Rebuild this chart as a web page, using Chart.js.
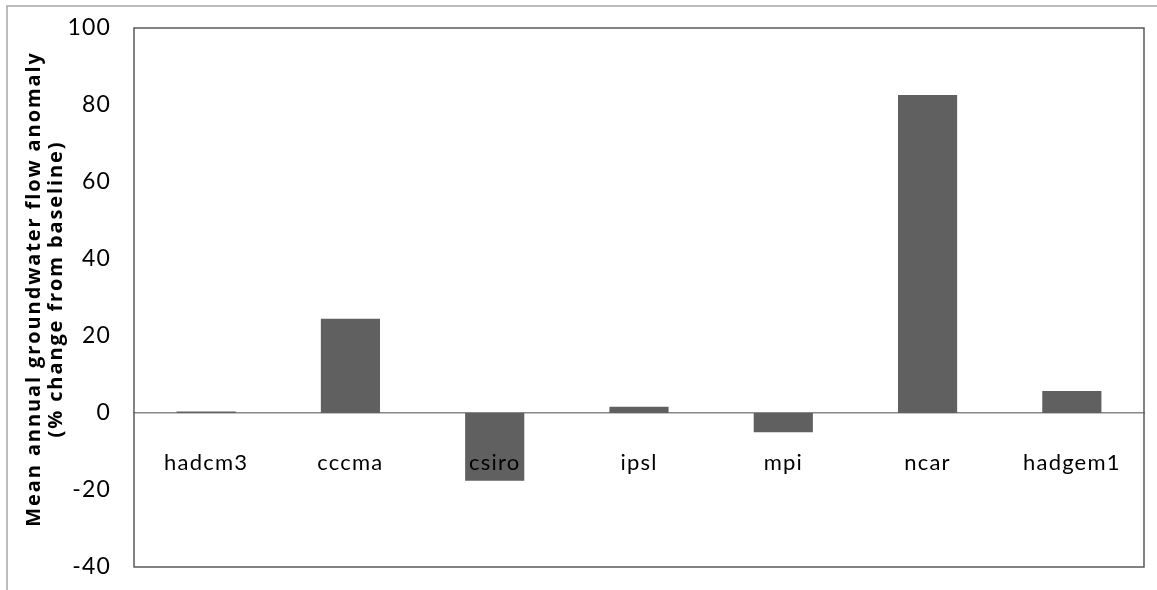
<!DOCTYPE html>
<html>
<head>
<meta charset="utf-8">
<script src="https://cdn.jsdelivr.net/npm/chart.js@4"></script>
<style>
  html, body { margin: 0; padding: 0; background: #fff; }
  #wrap { width: 1157px; height: 590px; position: relative; }
</style>
</head>
<body>
<div id="wrap"><canvas id="bars"></canvas></div>
<script>
const models = ['hadcm3', 'cccma', 'csiro', 'ipsl', 'mpi', 'ncar', 'hadgem1'];
const anomaly = [0.4, 24.5, -17.6, 1.6, -5.0, 82.6, 5.7];
const yTicks = [-40, -20, 0, 20, 40, 60, 80, 100];
const yTitle = ['Mean annual groundwater flow anomaly', '(% change from baseline)'];

// outer frame (only top/left visible) + plot frame + rotated axis title
const decor = {
  id: 'decor',
  beforeDraw(chart) {
    const c = chart.ctx;
    c.letterSpacing = '1.2px';
    c.save();
    c.strokeStyle = '#a6a6a6';
    c.lineWidth = 1.5;
    c.strokeRect(7, 6, 3000, 3000);
    c.restore();
  },
  afterDraw(chart) {
    const c = chart.ctx, a = chart.chartArea;
    c.save();
    c.strokeStyle = '#595959';
    c.lineWidth = 1.5;
    c.strokeRect(a.left, a.top, a.right - a.left, a.bottom - a.top);
    c.translate(45, 289);
    c.rotate(-Math.PI / 2);
    c.fillStyle = '#000';
    c.font = 'bold 20px "Open Sans"';
    c.letterSpacing = '1.9px';
    c.textAlign = 'center';
    c.textBaseline = 'middle';
    c.fillText(yTitle[0], 0, -11);
    c.fillText(yTitle[1], 0, 11);
    c.restore();
  }
};

new Chart(document.getElementById('bars'), {
  type: 'bar',
  data: {
    labels: models,
    datasets: [{
      data: anomaly,
      backgroundColor: '#606060',
      barPercentage: 0.41,
      categoryPercentage: 1
    }]
  },
  options: {
    responsive: true,
    maintainAspectRatio: false,
    animation: false,
    layout: { padding: { left: 0, top: 28, right: 13, bottom: 23 } },
    plugins: { legend: { display: false }, tooltip: { enabled: false } },
    scales: {
      x: {
        position: { y: 0 },
        afterFit(s) { s.height = 0; },
        grid: { display: false, drawTicks: false },
        border: { display: true, color: '#888888', width: 1.5 },
        ticks: { z: 1, color: '#000', padding: 37, font: { family: 'Lato', size: 22 } }
      },
      y: {
        min: -40,
        max: 100,
        afterFit(s) { s.width = 134; s.paddingTop = 0; s.paddingBottom = 0; },
        afterBuildTicks(s) { s.ticks = yTicks.map(v => ({ value: v })); },
        grid: { display: false, drawTicks: false },
        border: { display: false },
        ticks: { color: '#000', padding: 23, font: { family: 'Lato', size: 23 } }
      }
    }
  },
  plugins: [decor]
});
</script>
</body>
</html>
